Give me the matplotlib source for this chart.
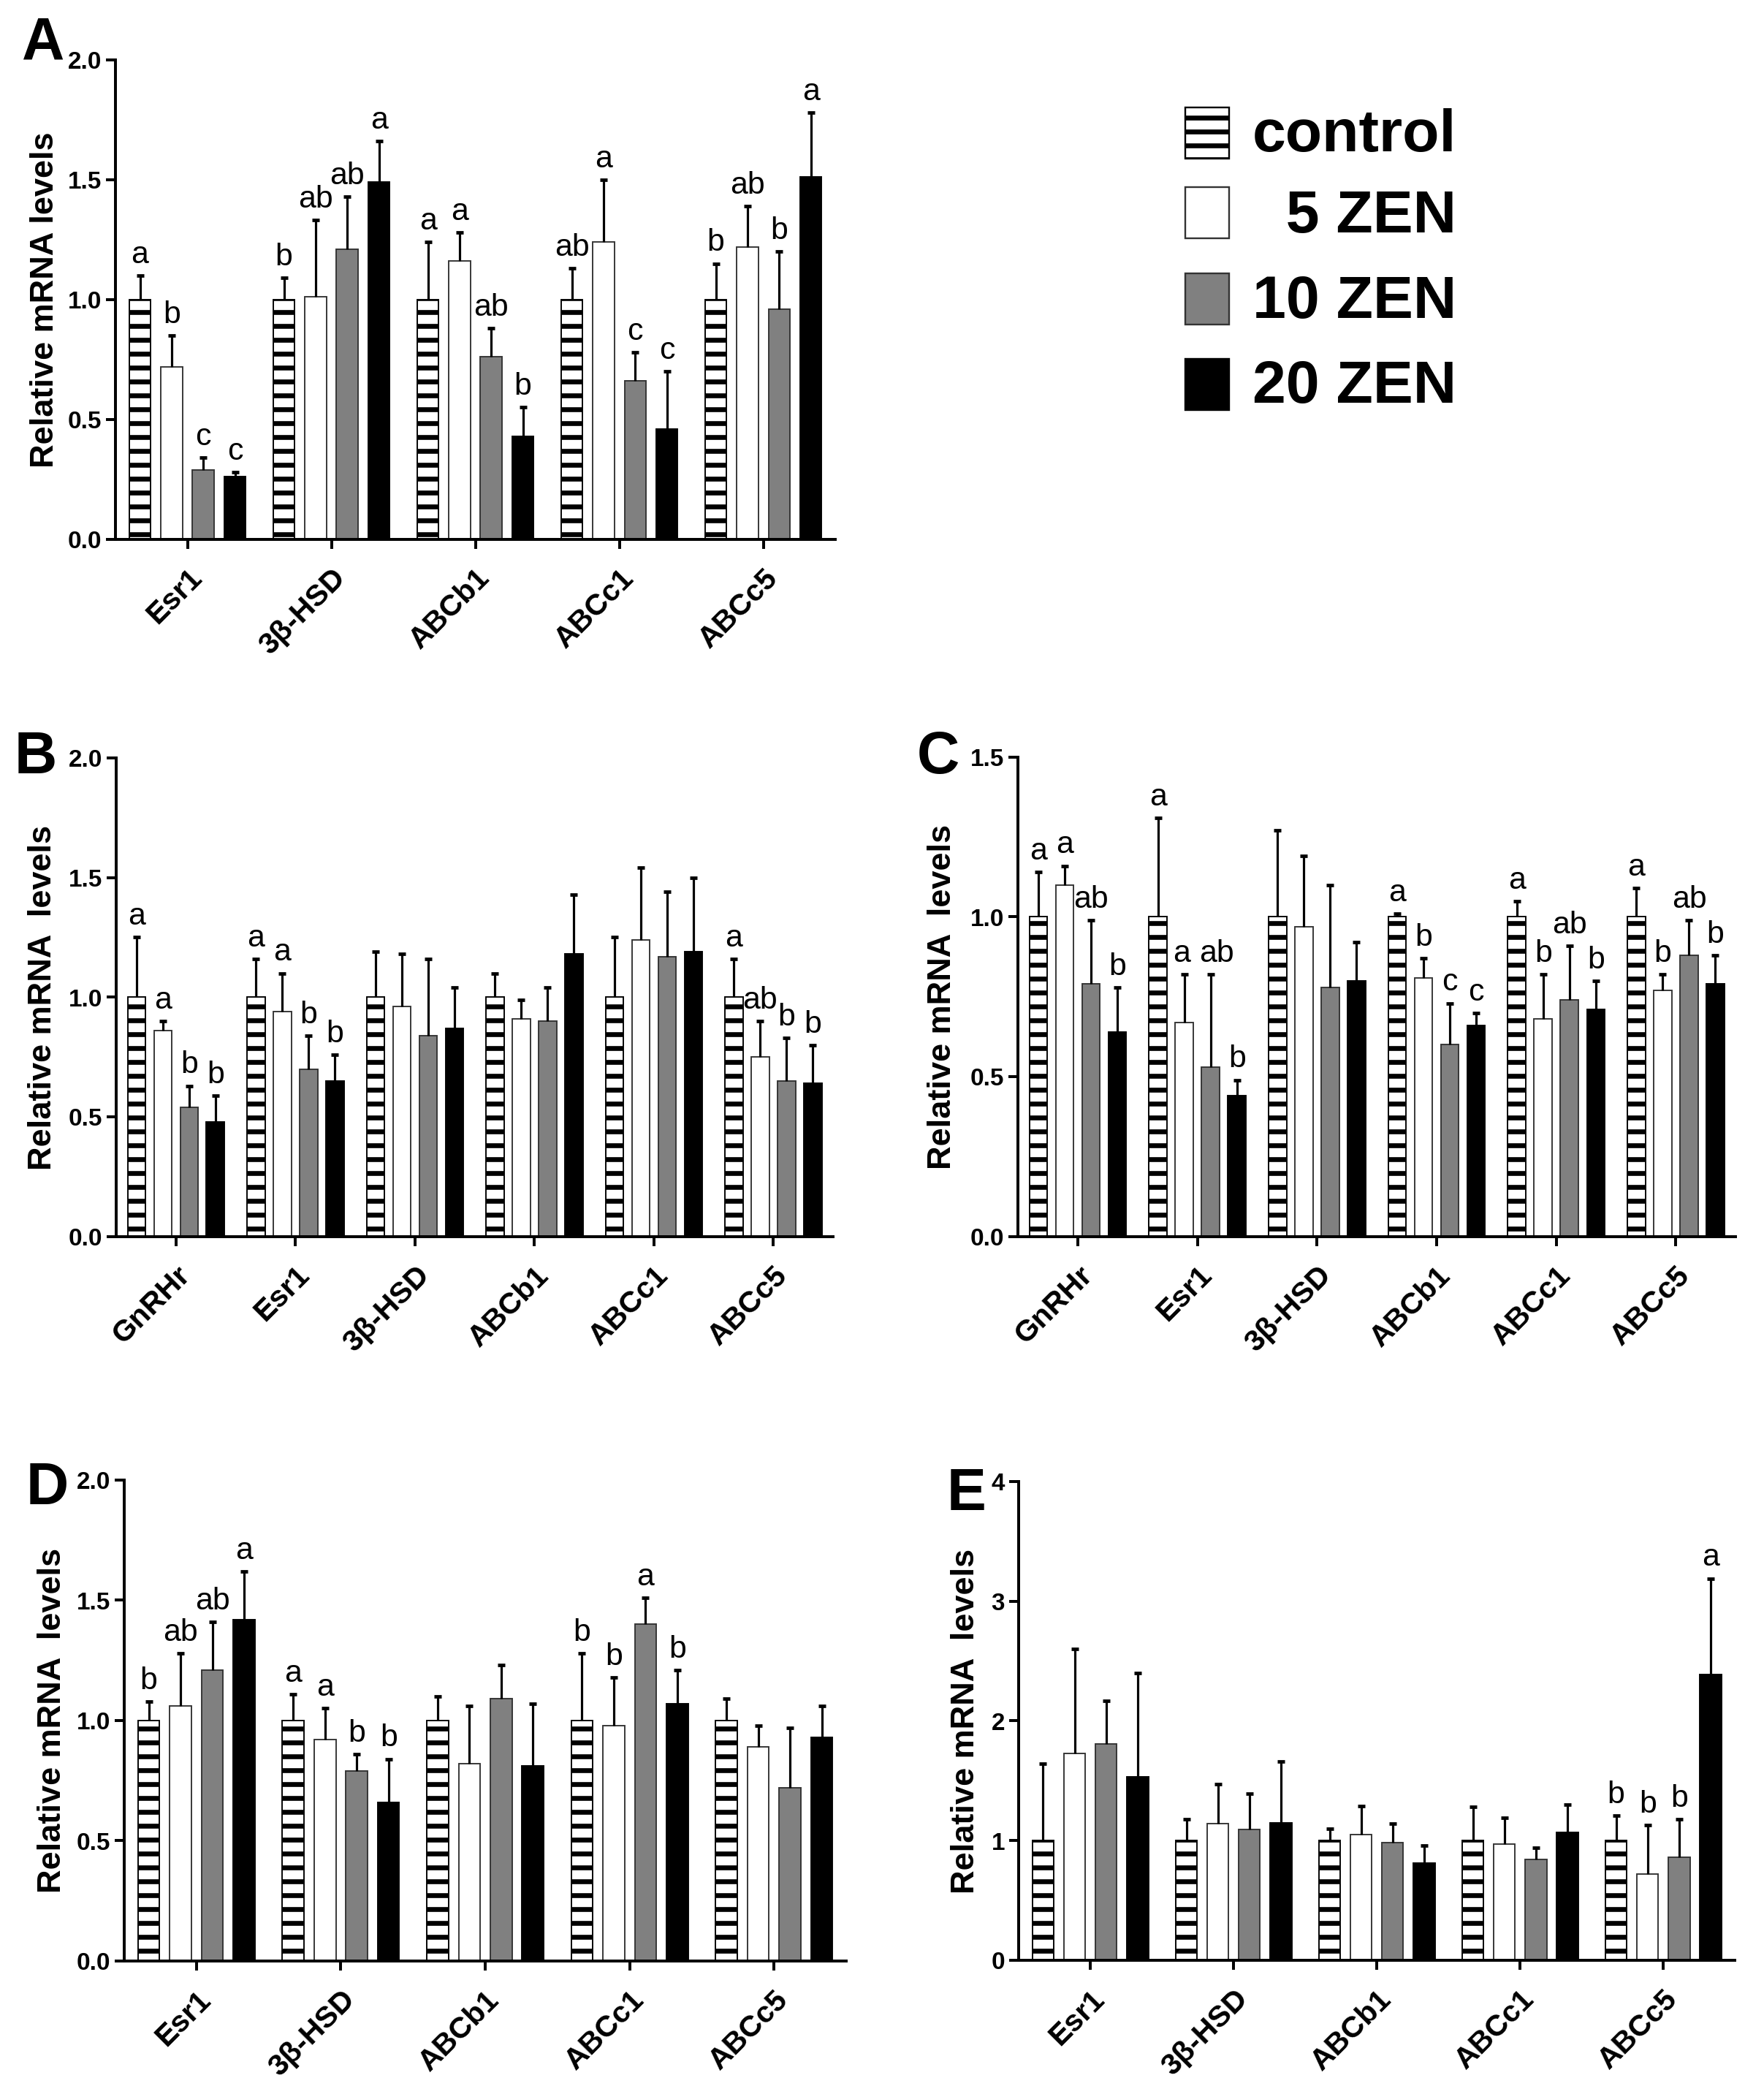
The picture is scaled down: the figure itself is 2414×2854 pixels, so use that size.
import numpy as np
import matplotlib.pyplot as plt
from matplotlib.patches import Rectangle
from matplotlib.ticker import FormatStrFormatter

plt.rcParams['font.family'] = ['Liberation Sans', 'DejaVu Sans']
plt.rcParams['hatch.linewidth'] = 4.2

DPI = 114
W, H = 2414, 2854

# treatment groups and bar styles
groups = ['control', '5 ZEN', '10 ZEN', '20 ZEN']
legend_labels = ['control', '  5 ZEN', '10 ZEN', '20 ZEN']
face = ['white', 'white', '#808080', 'black']
edge = ['black', '#333333', '#333333', 'black']
hatches = ['-', None, None, None]
offsets = [-0.33, -0.11, 0.11, 0.33]

# ---- panel A ----
genes_A = ['Esr1', '3β-HSD', 'ABCb1', 'ABCc1', 'ABCc5']
mean_A = [[1.00, 1.00, 1.00, 1.00, 1.00],
          [0.72, 1.01, 1.16, 1.24, 1.22],
          [0.29, 1.21, 0.76, 0.66, 0.96],
          [0.26, 1.49, 0.43, 0.46, 1.51]]
err_A = [[0.10, 0.09, 0.24, 0.13, 0.15],
         [0.13, 0.32, 0.12, 0.26, 0.17],
         [0.05, 0.22, 0.12, 0.12, 0.24],
         [0.02, 0.17, 0.12, 0.24, 0.27]]
sig_A = [['a', 'b', 'a', 'ab', 'b'],
         ['b', 'ab', 'a', 'a', 'ab'],
         ['c', 'ab', 'ab', 'c', 'b'],
         ['c', 'a', 'b', 'c', 'a']]

# ---- panel B ----
genes_B = ['GnRHr', 'Esr1', '3β-HSD', 'ABCb1', 'ABCc1', 'ABCc5']
mean_B = [[1.00, 1.00, 1.00, 1.00, 1.00, 1.00],
          [0.86, 0.94, 0.96, 0.91, 1.24, 0.75],
          [0.54, 0.70, 0.84, 0.90, 1.17, 0.65],
          [0.48, 0.65, 0.87, 1.18, 1.19, 0.64]]
err_B = [[0.25, 0.16, 0.19, 0.10, 0.25, 0.16],
         [0.04, 0.16, 0.22, 0.08, 0.30, 0.15],
         [0.09, 0.14, 0.32, 0.14, 0.27, 0.18],
         [0.11, 0.11, 0.17, 0.25, 0.31, 0.16]]
sig_B = [['a', 'a', '', '', '', 'a'],
         ['a', 'a', '', '', '', 'ab'],
         ['b', 'b', '', '', '', 'b'],
         ['b', 'b', '', '', '', 'b']]

# ---- panel C ----
genes_C = ['GnRHr', 'Esr1', '3β-HSD', 'ABCb1', 'ABCc1', 'ABCc5']
mean_C = [[1.00, 1.00, 1.00, 1.00, 1.00, 1.00],
          [1.10, 0.67, 0.97, 0.81, 0.68, 0.77],
          [0.79, 0.53, 0.78, 0.60, 0.74, 0.88],
          [0.64, 0.44, 0.80, 0.66, 0.71, 0.79]]
err_C = [[0.14, 0.31, 0.27, 0.01, 0.05, 0.09],
         [0.06, 0.15, 0.22, 0.06, 0.14, 0.05],
         [0.20, 0.29, 0.32, 0.13, 0.17, 0.11],
         [0.14, 0.05, 0.12, 0.04, 0.09, 0.09]]
sig_C = [['a', 'a', '', 'a', 'a', 'a'],
         ['a', 'a', '', 'b', 'b', 'b'],
         ['ab', 'ab', '', 'c', 'ab', 'ab'],
         ['b', 'b', '', 'c', 'b', 'b']]

# ---- panel D ----
genes_D = ['Esr1', '3β-HSD', 'ABCb1', 'ABCc1', 'ABCc5']
mean_D = [[1.00, 1.00, 1.00, 1.00, 1.00],
          [1.06, 0.92, 0.82, 0.98, 0.89],
          [1.21, 0.79, 1.09, 1.40, 0.72],
          [1.42, 0.66, 0.81, 1.07, 0.93]]
err_D = [[0.08, 0.11, 0.10, 0.28, 0.09],
         [0.22, 0.13, 0.24, 0.20, 0.09],
         [0.20, 0.07, 0.14, 0.11, 0.25],
         [0.20, 0.18, 0.26, 0.14, 0.13]]
sig_D = [['b', 'a', '', 'b', ''],
         ['ab', 'a', '', 'b', ''],
         ['ab', 'b', '', 'a', ''],
         ['a', 'b', '', 'b', '']]

# ---- panel E ----
genes_E = ['Esr1', '3β-HSD', 'ABCb1', 'ABCc1', 'ABCc5']
mean_E = [[1.00, 1.00, 1.00, 1.00, 1.00],
          [1.73, 1.14, 1.05, 0.97, 0.72],
          [1.81, 1.09, 0.98, 0.84, 0.86],
          [1.53, 1.15, 0.81, 1.07, 2.39]]
err_E = [[0.64, 0.18, 0.10, 0.28, 0.21],
         [0.87, 0.33, 0.24, 0.22, 0.41],
         [0.36, 0.30, 0.16, 0.10, 0.32],
         [0.87, 0.51, 0.15, 0.23, 0.80]]
sig_E = [['', '', '', '', 'b'],
         ['', '', '', '', 'b'],
         ['', '', '', '', 'b'],
         ['', '', '', '', 'a']]

fig = plt.figure(figsize=((W + 0.3) / DPI, (H + 0.3) / DPI), dpi=DPI)


def panel(box, genes, means, errs, sig, ymax, ystep, yfmt, tag, tagpos, ylab, labx,
          nudge=None):
    nudge = nudge or {}
    l, t, r, b = box
    ax = fig.add_axes([l / W, 1 - b / H, (r - l) / W, (b - t) / H])
    x = np.arange(len(genes))
    for k in range(4):
        xs = x + offsets[k]
        m = np.array(means[k])
        tops = m + np.array(errs[k])
        ax.bar(xs, m, width=0.15, color=face[k], edgecolor=edge[k],
               hatch=hatches[k], linewidth=1.2, zorder=2)
        ax.vlines(xs, m, tops, color='black', linewidth=2.0, zorder=3)
        ax.plot(xs, tops, ls='none', marker='_', ms=6.5, mew=3.0,
                color='black', zorder=3)
        for i, (xi, yi, s) in enumerate(zip(xs, tops, sig[k])):
            if s:
                ax.annotate(s, (xi, yi), xytext=(nudge.get((k, i), 0), 11),
                            textcoords='offset points',
                            ha='center', va='baseline', fontsize=27)
    ax.set_xlim(-0.5, len(genes) - 0.5)
    ax.set_ylim(0, ymax)
    ax.set_yticks(np.arange(0, ymax + ystep / 2, ystep))
    ax.yaxis.set_major_formatter(FormatStrFormatter(yfmt))
    ax.set_xticks(x)
    ax.set_xticklabels(genes, rotation=45, ha='right', va='top',
                       rotation_mode='anchor', fontsize=26, fontweight='bold')
    for lab in ax.get_yticklabels():
        lab.set_fontweight('bold')
    ax.spines[['top', 'right']].set_visible(False)
    ax.spines['left'].set_linewidth(2.5)
    ax.spines['bottom'].set_linewidth(2.5)
    ax.tick_params(axis='y', length=8, width=2.5, labelsize=21, pad=4)
    ax.tick_params(axis='x', length=8, width=2.5, pad=13)
    ax.set_ylabel(ylab, fontsize=28.5, fontweight='bold')
    ax.yaxis.set_label_coords(labx, 0.5)
    fig.text(tagpos[0] / W, 1 - tagpos[1] / H, tag, fontsize=51,
             fontweight='bold', ha='left', va='baseline')
    return ax


panel((158, 82, 1143, 738), genes_A, mean_A, err_A, sig_A, 2.0, 0.5, '%.1f',
      'A', (30, 80), 'Relative mRNA levels', -0.077)
panel((159, 1037, 1140, 1692), genes_B, mean_B, err_B, sig_B, 2.0, 0.5, '%.1f',
      'B', (20, 1058), 'Relative mRNA  levels', -0.082)
panel((1393, 1036, 2375, 1692), genes_C, mean_C, err_C, sig_C, 1.5, 0.5, '%.1f',
      'C', (1255, 1058), 'Relative mRNA  levels', -0.085,
      nudge={(1, 1): -2, (2, 1): 5})
panel((170, 2025, 1158, 2683), genes_D, mean_D, err_D, sig_D, 2.0, 0.5, '%.1f',
      'D', (36, 2058), 'Relative mRNA  levels', -0.079)
panel((1394, 2027, 2374, 2682), genes_E, mean_E, err_E, sig_E, 4, 1, '%d',
      'E', (1295, 2066), 'Relative mRNA  levels', -0.053)

# legend
row_y = [182, 291, 409, 526]
base_y = [207, 318, 435, 551]
for k in range(4):
    rect = Rectangle((1622 / W, 1 - (row_y[k] + 35) / H), 60 / W, 70 / H,
                     transform=fig.transFigure, facecolor=face[k],
                     edgecolor=edge[k], hatch=hatches[k], linewidth=1.5)
    fig.add_artist(rect)
    fig.text(1714 / W, 1 - base_y[k] / H, legend_labels[k], fontsize=52,
             fontweight='bold', ha='left', va='baseline')

fig.savefig('out.png', dpi=DPI)
